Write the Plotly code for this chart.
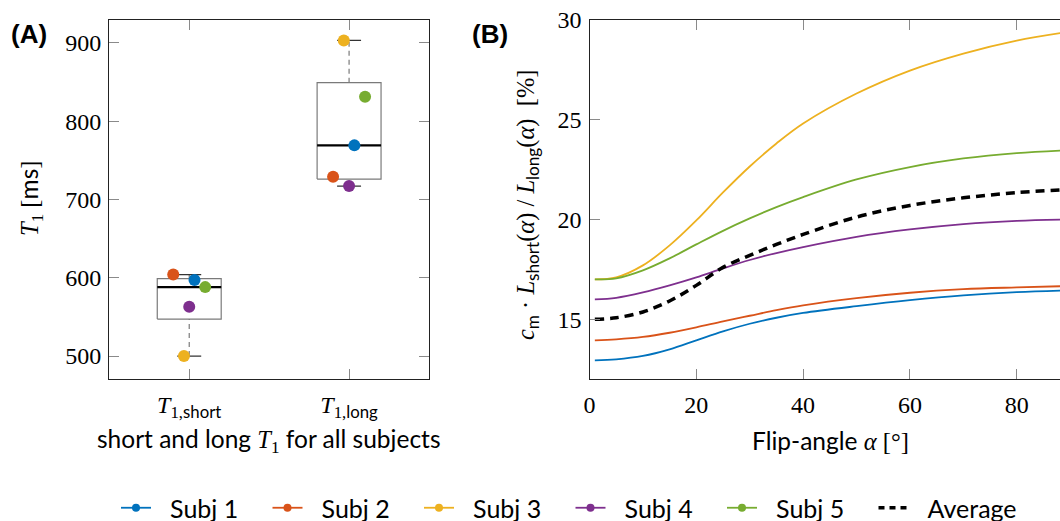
import numpy as np
import plotly.graph_objects as go

# ---------------- data ----------------
subjects = ["Subj 1", "Subj 2", "Subj 3", "Subj 4", "Subj 5"]
t1_short = [597, 604, 500, 563, 588]
t1_long = [769, 729, 903, 717, 831]

flip_angle = [1, 5, 10, 15, 20, 25, 30, 35, 40, 50, 60, 70, 80, 90]
ratio_subj1 = [12.95, 13.0, 13.17, 13.5, 13.95, 14.4, 14.78, 15.08, 15.32, 15.66, 15.96, 16.2, 16.36, 16.45]
ratio_subj2 = [13.95, 14.0, 14.12, 14.33, 14.6, 14.9, 15.18, 15.46, 15.7, 16.06, 16.33, 16.51, 16.6, 16.67]
ratio_subj3 = [17.0, 17.1, 17.7, 18.7, 19.95, 21.35, 22.65, 23.8, 24.8, 26.3, 27.45, 28.3, 28.95, 29.4]
ratio_subj4 = [16.0, 16.08, 16.35, 16.7, 17.1, 17.55, 17.97, 18.32, 18.62, 19.13, 19.5, 19.77, 19.93, 20.0]
ratio_subj5 = [17.0, 17.05, 17.45, 18.05, 18.75, 19.43, 20.05, 20.62, 21.12, 22.0, 22.62, 23.05, 23.32, 23.47]
ratio_average = [15.0, 15.08, 15.37, 15.92, 16.7, 17.6, 18.2, 18.75, 19.25, 20.12, 20.7, 21.08, 21.34, 21.5]

y_ticks_a = [500, 600, 700, 800, 900]
x_ticks_b = [0, 20, 40, 60, 80]
y_ticks_b = [15, 20, 25, 30]

# ---------------- style ----------------
colors = ["#0072BD", "#D95319", "#EDB120", "#7E2F8E", "#77AC30"]
jitter = [0.033, -0.1, -0.033, 0.0, 0.1]
BOX_HALF = 0.2
CAP_HALF = 0.075
SERIF = "Liberation Serif"
SANS = "Lato"
W, H = 1060, 521
LEGEND_PAD = "\u2002\u200a"

def px_x(p):
    return p / W

def px_y(p):
    return 1 - p / H

def prctile(vals, p):
    s = sorted(vals)
    n = len(s)
    pos = p / 100.0 * n + 0.5
    if pos <= 1:
        return s[0]
    if pos >= n:
        return s[-1]
    i = int(np.floor(pos))
    f = pos - i
    return s[i - 1] + f * (s[i] - s[i - 1])

def sans(t):
    return f"<span style='font-family:{SANS}'>{t}</span>"

def serif(t):
    return f"<span style='font-family:{SERIF}'>{t}</span>"

fig = go.Figure()

# ---------------- panel A: boxes ----------------
for k, vals in enumerate([t1_short, t1_long]):
    q1 = prctile(vals, 25)
    med = prctile(vals, 50)
    q3 = prctile(vals, 75)
    iqr = q3 - q1
    hi = max(v for v in vals if v <= q3 + 1.5 * iqr)
    lo = min(v for v in vals if v >= q1 - 1.5 * iqr)
    for a, b in [(q3, hi), (lo, q1)]:
        fig.add_trace(go.Scatter(x=[k, k], y=[a, b], mode="lines", xaxis="x", yaxis="y",
                                 line=dict(color="#7a7a7a", width=1.2, dash="5px,4px"),
                                 showlegend=False, hoverinfo="skip"))
    for v in [hi, lo]:
        fig.add_trace(go.Scatter(x=[k - CAP_HALF, k + CAP_HALF], y=[v, v], mode="lines",
                                 xaxis="x", yaxis="y", line=dict(color="#333333", width=1.2),
                                 showlegend=False, hoverinfo="skip"))
    fig.add_trace(go.Scatter(x=[k - BOX_HALF, k + BOX_HALF, k + BOX_HALF, k - BOX_HALF, k - BOX_HALF],
                             y=[q1, q1, q3, q3, q1], mode="lines", fill="toself",
                             fillcolor="white", xaxis="x", yaxis="y",
                             line=dict(color="#7a7a7a", width=1.2),
                             showlegend=False, hoverinfo="skip"))
    fig.add_trace(go.Scatter(x=[k - BOX_HALF, k + BOX_HALF], y=[med, med], mode="lines",
                             xaxis="x", yaxis="y", line=dict(color="black", width=2.2),
                             showlegend=False, hoverinfo="skip"))

# ---------------- panel A: points ----------------
for i, name in enumerate(subjects):
    fig.add_trace(go.Scatter(x=[0 + jitter[i], 1 + jitter[i]], y=[t1_short[i], t1_long[i]],
                             mode="markers", xaxis="x", yaxis="y",
                             marker=dict(color=colors[i], size=12, line=dict(width=0)),
                             showlegend=False, legendgroup=name))

# ---------------- panel B: curves ----------------
ratios = [ratio_subj1, ratio_subj2, ratio_subj3, ratio_subj4, ratio_subj5]
for i, name in enumerate(subjects):
    fig.add_trace(go.Scatter(x=flip_angle, y=ratios[i], mode="lines", xaxis="x2", yaxis="y2",
                             line=dict(color=colors[i], width=1.8, shape="spline", smoothing=1.0),
                             showlegend=False, legendgroup=name))
fig.add_trace(go.Scatter(x=flip_angle, y=ratio_average, mode="lines", xaxis="x2", yaxis="y2",
                         line=dict(color="black", width=3.5, dash="9px,6px", shape="spline", smoothing=1.0),
                         showlegend=False, legendgroup="Average"))

# ---------------- legend entries ----------------
for i, name in enumerate(subjects):
    fig.add_trace(go.Scatter(x=[None], y=[None], mode="lines+markers", name=LEGEND_PAD + name,
                             xaxis="x2", yaxis="y2", legendgroup=name,
                             line=dict(color=colors[i], width=1.8),
                             marker=dict(color=colors[i], size=8)))
fig.add_trace(go.Scatter(x=[None], y=[None], mode="lines", name=LEGEND_PAD + "Average",
                         xaxis="x2", yaxis="y2", legendgroup="Average",
                         line=dict(color="black", width=3.5, dash="6px,5px")))

ydom = [px_y(379.3), px_y(19.6)]
axis_common = dict(showline=True, linecolor="#222222", linewidth=1.3, ticks="inside",
                   ticklen=10, tickwidth=1, tickcolor="#8a8a8a", showgrid=False,
                   zeroline=False, tickfont=dict(family=SERIF, size=24, color="black"))

tick_short = "<i>T</i><sub>1," + sans("short") + "</sub>"
tick_long = "<i>T</i><sub>1," + sans("long") + "</sub>"

fig.update_layout(
    width=W, height=H, margin=dict(l=0, r=0, t=0, b=0, autoexpand=False),
    paper_bgcolor="white", plot_bgcolor="white",
    xaxis=dict(domain=[px_x(109.3), px_x(429)], range=[-0.5, 1.5],
               tickvals=[0, 1], ticktext=[tick_short, tick_long], mirror="ticks",
               ticklabelstandoff=4, **axis_common),
    yaxis=dict(domain=ydom, range=[470.3, 929.6], tickvals=y_ticks_a, mirror="ticks",
               ticklabelstandoff=2, **axis_common),
    xaxis2=dict(domain=[px_x(589.5), 1.0], range=[0, 88.1], tickvals=x_ticks_b,
                mirror="ticks", anchor="y2", ticklabelstandoff=4, **axis_common),
    yaxis2=dict(domain=ydom, range=[12, 30], tickvals=y_ticks_b, anchor="x2",
                ticklabelstandoff=2, **axis_common),
    legend=dict(orientation="h", x=px_x(116), xanchor="left", y=px_y(508), yanchor="middle",
                font=dict(family=SANS, size=25, color="black"), entrywidth=106.5,
                entrywidthmode="pixels", bgcolor="rgba(0,0,0,0)", itemclick=False),
    showlegend=True,
)

ann_font = dict(family=SANS, size=24.5, color="black")
fig.add_annotation(text="short and long " + serif("<i>T</i><sub>1</sub>") + " for all subjects",
                   xref="paper", yref="paper", x=px_x(269), y=px_y(440),
                   xanchor="center", yanchor="middle", showarrow=False, font=ann_font)
fig.add_annotation(text=serif("<i>T</i><sub>1</sub> [") + "ms" + serif("]"),
                   xref="paper", yref="paper", x=px_x(31), y=px_y(199), textangle=-90,
                   xanchor="center", yanchor="middle", showarrow=False, font=ann_font)
fig.add_annotation(text="Flip-angle " + serif("<i>α</i> [°]"),
                   xref="paper", yref="paper", x=px_x(830), y=px_y(440),
                   xanchor="center", yanchor="middle", showarrow=False, font=ann_font)
ylab_b = (serif("<i>c</i>") + "<sub>m</sub>" + serif(" · <i>L</i>") + "<sub>short</sub>"
          + serif("(<i>α</i>) / <i>L</i>") + "<sub>long</sub>" + serif("(<i>α</i>)  [%]"))
fig.add_annotation(text=ylab_b, xref="paper", yref="paper", x=px_x(527), y=px_y(205),
                   textangle=-90, xanchor="center", yanchor="middle", showarrow=False,
                   font=dict(family=SANS, size=24.5, color="black"))
fig.add_annotation(text="<b>(A)</b>", xref="paper", yref="paper", x=px_x(29), y=px_y(34),
                   xanchor="center", yanchor="middle", showarrow=False,
                   font=dict(family="Liberation Sans", size=26, color="black"))
fig.add_annotation(text="<b>(B)</b>", xref="paper", yref="paper", x=px_x(490), y=px_y(34),
                   xanchor="center", yanchor="middle", showarrow=False,
                   font=dict(family="Liberation Sans", size=26, color="black"))

fig.write_html("out.html")
